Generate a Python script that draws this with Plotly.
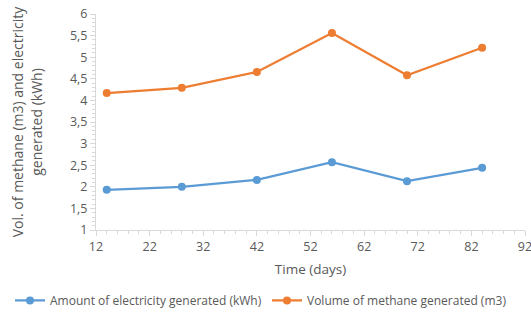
import plotly.graph_objects as go

days = [14, 28, 42, 56, 70, 84]
electricity = [1.93, 2.0, 2.16, 2.57, 2.13, 2.44]
methane = [4.17, 4.29, 4.66, 5.56, 4.58, 5.22]

fig = go.Figure()
fig.add_trace(go.Scatter(x=days, y=electricity, mode="lines+markers",
                         name="Amount of electricity generated (kWh)",
                         line=dict(color="#5B9BD5", width=2.25),
                         marker=dict(size=8, color="#5B9BD5"), legend="legend"))
fig.add_trace(go.Scatter(x=days, y=methane, mode="lines+markers",
                         name="Volume of methane generated (m3)",
                         line=dict(color="#ED7D31", width=2.25),
                         marker=dict(size=8, color="#ED7D31"), legend="legend2"))

font = dict(family="Open Sans, Liberation Sans, sans-serif", size=12, color="#595959")
leg_common = dict(orientation="h", xref="container", yref="container",
                  xanchor="left", y=0.07, yanchor="middle",
                  font=dict(size=12, color="#595959"), itemwidth=30,
                  bgcolor="rgba(0,0,0,0)")
fig.update_layout(
    width=531, height=323,
    margin=dict(l=96, r=6, t=14, b=93, autoexpand=False),
    paper_bgcolor="white", plot_bgcolor="white",
    separators=",.",
    font=font,
    showlegend=True,
    legend=dict(x=10 / 531, **leg_common),
    legend2=dict(x=267 / 531, **leg_common),
    xaxis=dict(range=[12, 92], tick0=12, dtick=10, showgrid=False, zeroline=False,
               showline=True, linecolor="#D9D9D9", linewidth=1,
               ticks="outside", ticklen=5, tickcolor="#D9D9D9",
               ticklabeloverflow="allow",
               minor=dict(ticks="outside", dtick=2, tick0=12, ticklen=3, tickcolor="#D9D9D9"),
               title=dict(text="Time (days)", font=dict(size=13.5, color="#595959"), standoff=10),
               tickfont=dict(size=12.5, color="#595959")),
    yaxis=dict(range=[1, 6], dtick=0.5, showgrid=False, zeroline=False,
               showline=True, linecolor="#D9D9D9", linewidth=1,
               ticks="outside", ticklen=5, tickcolor="#D9D9D9",
               minor=dict(ticks="outside", dtick=0.1, ticklen=3, tickcolor="#D9D9D9"),
               title=dict(text="Vol. of methane (m3) and electricity<br>generated (kWh)",
                          font=dict(size=14, color="#595959"), standoff=24),
               tickfont=dict(size=12.5, color="#595959")),
)

fig.write_html("out.html", config={"displayModeBar": False},
               post_script="document.body.style.margin='0';")
